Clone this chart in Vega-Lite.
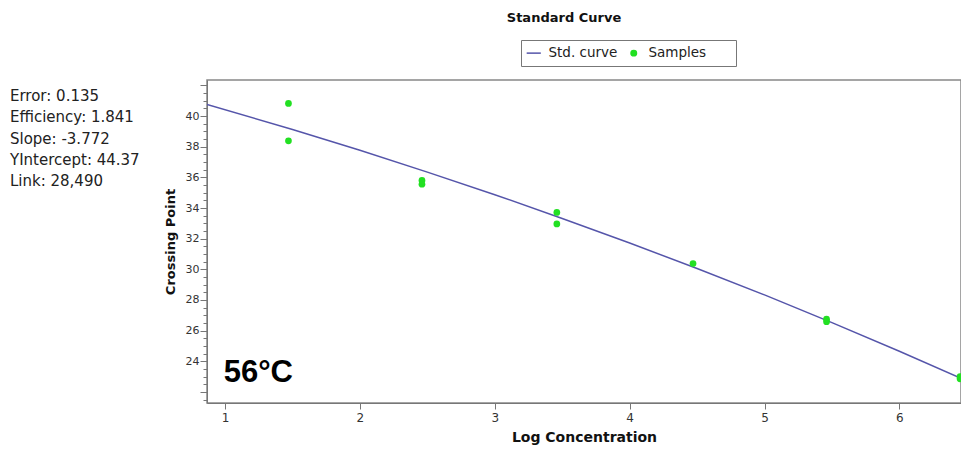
{
  "$schema": "https://vega.github.io/schema/vega-lite/v6.json",
  "width": 754,
  "height": 323,
  "autosize": {"type": "none"},
  "padding": {"left": 207, "top": 80, "right": 0, "bottom": 46},
  "background": "white",
  "title": {"text": "Standard Curve", "anchor": "middle", "dx": -20, "offset": 15, "font": "DejaVu Sans", "fontSize": 13, "fontWeight": "bold", "color": "#111"},
  "config": {
    "view": {"stroke": "#888", "strokeWidth": 1.5},
    "axis": {"grid": false, "domainColor": "#777", "tickColor": "#777", "labelFont": "DejaVu Sans", "labelFontSize": 11, "labelColor": "#333", "titleFont": "DejaVu Sans", "titleFontSize": 13, "titleFontWeight": "bold", "titleColor": "#111"}
  },
  "layer": [
    {
      "layer": [
        {
          "data": {"values": [
            {"logc": 0.866, "cp": 40.76, "series": "Std. curve"},
            {"logc": 1.5, "cp": 39.12, "series": "Std. curve"},
            {"logc": 2.0, "cp": 37.77, "series": "Std. curve"},
            {"logc": 2.5, "cp": 36.34, "series": "Std. curve"},
            {"logc": 3.0, "cp": 34.87, "series": "Std. curve"},
            {"logc": 3.5, "cp": 33.32, "series": "Std. curve"},
            {"logc": 4.0, "cp": 31.72, "series": "Std. curve"},
            {"logc": 4.5, "cp": 30.05, "series": "Std. curve"},
            {"logc": 5.0, "cp": 28.33, "series": "Std. curve"},
            {"logc": 5.5, "cp": 26.52, "series": "Std. curve"},
            {"logc": 6.0, "cp": 24.66, "series": "Std. curve"},
            {"logc": 6.457, "cp": 22.89, "series": "Std. curve"}
          ]},
          "mark": {"type": "line", "strokeWidth": 1.5, "clip": true},
          "encoding": {
            "x": {"field": "logc", "type": "quantitative", "scale": {"domain": [0.866, 6.457], "nice": false, "zero": false},
              "axis": {"values": [1, 2, 3, 4, 5, 6], "format": "d", "title": "Log Concentration", "tickSize": 6, "labelPadding": 3, "labelFontSize": 12, "titleFontSize": 14, "titlePadding": 7}},
            "y": {"field": "cp", "type": "quantitative", "scale": {"domain": [21.28, 42.35], "nice": false, "zero": false},
              "axis": {"values": [21.5, 22, 22.5, 23, 23.5, 24, 24.5, 25, 25.5, 26, 26.5, 27, 27.5, 28, 28.5, 29, 29.5, 30, 30.5, 31, 31.5, 32, 32.5, 33, 33.5, 34, 34.5, 35, 35.5, 36, 36.5, 37, 37.5, 38, 38.5, 39, 39.5, 40, 40.5, 41, 41.5, 42],
                "tickCount": 200,
                "labelExpr": "datum.value % 2 === 0 && datum.value >= 24 && datum.value <= 40 ? format(datum.value, 'd') : ''",
                "labelOverlap": false,
                "tickSize": {"condition": {"test": "datum.value % 2 === 0", "value": 7}, "value": 4},
                "labelPadding": 1, "title": "Crossing Point", "titlePadding": 8}},
            "color": {"field": "series", "type": "nominal",
              "scale": {"domain": ["Std. curve", "Samples"], "range": ["#5555aa", "#22e022"]},
              "legend": {"orient": "none", "legendX": 314, "legendY": -40, "direction": "horizontal",
                "title": "\u00a0", "titleOrient": "right", "titlePadding": 24, "titleFontSize": 13,
                "strokeColor": "#777", "fillColor": "white", "padding": 6, "labelFont": "DejaVu Sans", "labelFontSize": 13.5, "labelColor": "#222",
                "symbolSize": 200, "symbolStrokeWidth": 1.5, "columnPadding": 9, "labelOffset": 8,
                "encode": {"symbols": {"update": {
                  "shape": {"signal": "datum.value === 'Std. curve' ? 'stroke' : 'circle'"},
                  "size": {"signal": "datum.value === 'Std. curve' ? 200 : 30"},
                  "fill": {"signal": "datum.value === 'Samples' ? '#22e022' : 'transparent'"},
                  "stroke": {"signal": "datum.value === 'Std. curve' ? '#5555aa' : 'transparent'"},
                  "strokeWidth": {"value": 1.5},
                  "opacity": {"value": 1},
                  "fillOpacity": {"value": 1}
                }}}}}
          }
        },
        {
          "data": {"values": [
            {"logc": 1.47, "cp": 40.82, "series": "Samples"},
            {"logc": 1.47, "cp": 38.38, "series": "Samples"},
            {"logc": 2.46, "cp": 35.8, "series": "Samples"},
            {"logc": 2.46, "cp": 35.55, "series": "Samples"},
            {"logc": 3.46, "cp": 33.71, "series": "Samples"},
            {"logc": 3.46, "cp": 32.96, "series": "Samples"},
            {"logc": 4.47, "cp": 30.38, "series": "Samples"},
            {"logc": 5.46, "cp": 26.75, "series": "Samples"},
            {"logc": 5.46, "cp": 26.58, "series": "Samples"},
            {"logc": 6.45, "cp": 23.0, "series": "Samples"},
            {"logc": 6.45, "cp": 22.86, "series": "Samples"}
          ]},
          "mark": {"type": "point", "filled": true, "size": 45, "opacity": 1, "clip": true},
          "encoding": {
            "x": {"field": "logc", "type": "quantitative"},
            "y": {"field": "cp", "type": "quantitative"},
            "color": {"field": "series", "type": "nominal"}
          }
        },
        {
          "data": {"values": [{"label": "56°C"}]},
          "mark": {"type": "text", "font": "Liberation Sans", "fontSize": 31, "fontWeight": "bold", "align": "left", "baseline": "alphabetic", "color": "black"},
          "encoding": {
            "x": {"datum": 0.99, "type": "quantitative"},
            "y": {"datum": 22.63, "type": "quantitative"},
            "text": {"field": "label"}
          }
        }
      ]
    },
    {
      "data": {"values": [
        {"label": "Error: 0.135"},
        {"label": "Efficiency: 1.841"},
        {"label": "Slope: -3.772"},
        {"label": "YIntercept: 44.37"},
        {"label": "Link: 28,490"}
      ]},
      "mark": {"type": "text", "align": "left", "baseline": "middle", "font": "DejaVu Sans", "fontSize": 15, "color": "#222"},
      "encoding": {
        "x": {"datum": -0.595, "type": "quantitative"},
        "y": {"field": "label", "type": "nominal", "sort": null, "scale": {"type": "point", "range": [16, 101], "padding": 0}, "axis": null},
        "text": {"field": "label"}
      }
    }
  ],
  "resolve": {"scale": {"y": "independent"}, "axis": {"y": "independent"}}
}
